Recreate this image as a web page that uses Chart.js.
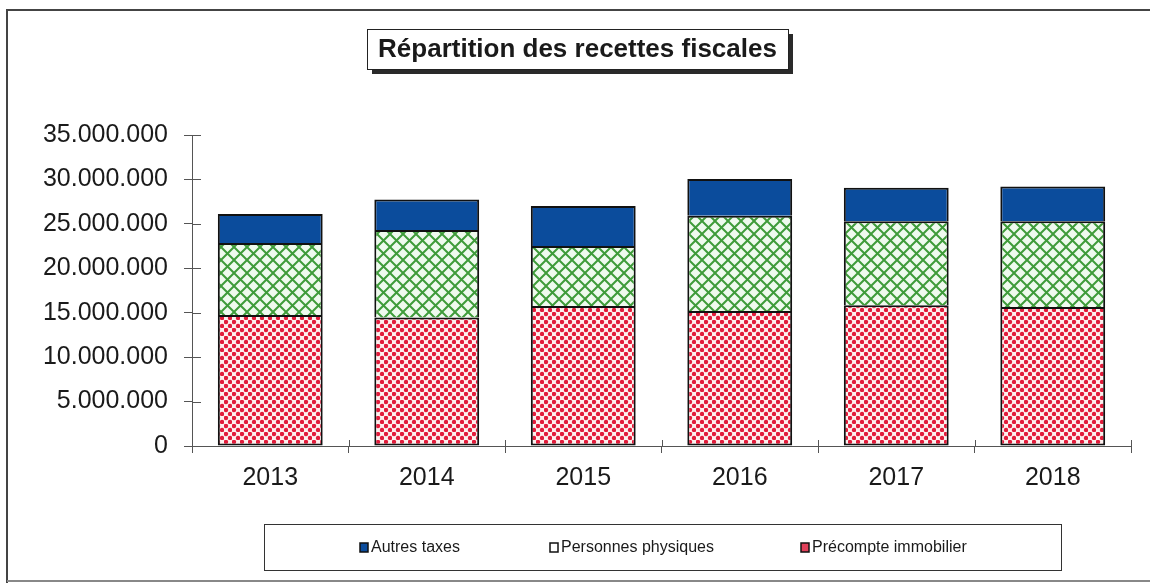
<!DOCTYPE html>
<html>
<head>
<meta charset="utf-8">
<title>Répartition des recettes fiscales</title>
<script src="https://cdn.jsdelivr.net/npm/chart.js@4.4.0/dist/chart.umd.min.js"></script>
<style>
    html, body { margin: 0; padding: 0; background: #ffffff; }
    #chart { display: block; }
</style>
</head>
<body>
<canvas id="chart" width="1150" height="583"></canvas>
<script>
// Data
const years = ['2013', '2014', '2015', '2016', '2017', '2018'];
const precompteImmobilier = [14750000, 14450000, 15750000, 15200000, 15850000, 15650000];
const personnesPhysiques = [8100000, 9850000, 6750000, 10700000, 9450000, 9650000];
const autresTaxes = [3250000, 3450000, 4500000, 4150000, 3750000, 3900000];
const seriesNames = ['Autres taxes', 'Personnes physiques', 'Précompte immobilier'];
const chartTitle = 'Répartition des recettes fiscales';
const yMax = 35000000;
const yStep = 5000000;

const FONT = '"Liberation Sans", Arial, sans-serif';

// Format numbers like 35.000.000
function formatThousands(v) {
    return String(v).replace(/\B(?=(\d{3})+(?!\d))/g, '.');
}

// Red dotted fill
function makeDotPattern(ctx) {
    const s = 8;
    const c = document.createElement('canvas');
    c.width = s;
    c.height = s;
    const p = c.getContext('2d');
    p.fillStyle = '#fdf1ef';
    p.fillRect(0, 0, s, s);
    p.fillStyle = '#e21c3b';
    [[2, 2], [6, 6]].forEach(([x, y]) => {
        p.beginPath();
        p.arc(x, y, 2.2, 0, Math.PI * 2);
        p.fill();
    });
    return ctx.createPattern(c, 'repeat');
}

// Green diagonal cross-hatch fill
function makeHatchPattern(ctx) {
    const s = 13;
    const c = document.createElement('canvas');
    c.width = s;
    c.height = s;
    const p = c.getContext('2d');
    p.fillStyle = '#effaee';
    p.fillRect(0, 0, s, s);
    p.strokeStyle = '#3f9b3a';
    p.lineWidth = 2;
    p.beginPath();
    p.moveTo(-1, -1); p.lineTo(s + 1, s + 1);
    p.moveTo(s + 1, -1); p.lineTo(-1, s + 1);
    p.stroke();
    return ctx.createPattern(c, 'repeat');
}

// Frame, title box, legend box and ticks that cross the axes
const decorPlugin = {
    id: 'decor',
    afterDraw(chart) {
        const ctx = chart.ctx;
        const area = chart.chartArea;
        ctx.save();

        // outer frame
        ctx.strokeStyle = '#444';
        ctx.lineWidth = 2;
        ctx.beginPath();
        ctx.moveTo(7, 583);
        ctx.lineTo(7, 10);
        ctx.lineTo(1150, 10);
        ctx.stroke();
        ctx.strokeStyle = '#888';
        ctx.beginPath();
        ctx.moveTo(7, 581);
        ctx.lineTo(1150, 581);
        ctx.stroke();

        // title box with shadow
        const bx = 367, by = 29, bw = 421, bh = 40;
        ctx.fillStyle = '#2a2a2a';
        ctx.fillRect(bx + 5, by + 5, bw, bh);
        ctx.fillStyle = '#ffffff';
        ctx.fillRect(bx, by, bw, bh);
        ctx.strokeStyle = '#222';
        ctx.lineWidth = 1;
        ctx.strokeRect(bx + 0.5, by + 0.5, bw, bh);
        ctx.fillStyle = '#1a1a1a';
        ctx.font = 'bold 26px ' + FONT;
        ctx.textAlign = 'center';
        ctx.textBaseline = 'middle';
        ctx.fillText(chartTitle, bx + bw / 2, by + bh / 2 + 1);

        // legend box
        ctx.strokeStyle = '#333';
        ctx.strokeRect(264.5, 524.5, 797, 46);
        const legendItems = [
            { label: seriesNames[0], x: 360, fill: '#0b4c9c' },
            { label: seriesNames[1], x: 550, fill: '#ffffff' },
            { label: seriesNames[2], x: 801, fill: '#e0405a' }
        ];
        ctx.font = '16px ' + FONT;
        ctx.textAlign = 'left';
        legendItems.forEach(item => {
            ctx.fillStyle = item.fill;
            ctx.fillRect(item.x, 543, 8, 9);
            ctx.strokeStyle = '#111';
            ctx.lineWidth = 1.5;
            ctx.strokeRect(item.x, 543, 8, 9);
            ctx.fillStyle = '#1a1a1a';
            ctx.fillText(item.label, item.x + 11, 548);
        });

        // inward parts of the tick marks
        const yScale = chart.scales.y;
        ctx.strokeStyle = '#555';
        ctx.lineWidth = 1;
        ctx.beginPath();
        yScale.ticks.forEach(t => {
            const py = Math.round(yScale.getPixelForValue(t.value)) + 0.5;
            ctx.moveTo(area.left, py);
            ctx.lineTo(area.left + 9, py);
        });
        const step = (area.right - area.left) / years.length;
        for (let i = 0; i <= years.length; i++) {
            const px = Math.round(area.left + i * step) + 0.5;
            ctx.moveTo(px, area.bottom - 6);
            ctx.lineTo(px, area.bottom);
        }
        ctx.stroke();
        ctx.restore();
    }
};

document.addEventListener('DOMContentLoaded', function() {
    const ctx = document.getElementById('chart').getContext('2d');
    const dotFill = makeDotPattern(ctx);
    const hatchFill = makeHatchPattern(ctx);

    new Chart(ctx, {
        type: 'bar',
        data: {
            labels: years,
            datasets: [
                {
                    label: seriesNames[2],
                    data: precompteImmobilier,
                    backgroundColor: dotFill,
                    borderColor: '#111',
                    borderWidth: 2,
                    borderSkipped: false
                },
                {
                    label: seriesNames[1],
                    data: personnesPhysiques,
                    backgroundColor: hatchFill,
                    borderColor: '#111',
                    borderWidth: 2,
                    borderSkipped: 'bottom'
                },
                {
                    label: seriesNames[0],
                    data: autresTaxes,
                    backgroundColor: '#0b4c9c',
                    borderColor: '#111',
                    borderWidth: 2,
                    borderSkipped: 'bottom'
                }
            ]
        },
        options: {
            responsive: false,
            maintainAspectRatio: false,
            animation: false,
            datasets: {
                bar: {
                    barPercentage: 0.67,
                    categoryPercentage: 1.0
                }
            },
            layout: {
                padding: { top: 135, right: 19, bottom: 0, left: 0 }
            },
            plugins: {
                legend: { display: false },
                title: { display: false },
                tooltip: { enabled: false }
            },
            scales: {
                x: {
                    stacked: true,
                    afterFit: function(scale) { scale.height = 137; },
                    grid: {
                        offset: true,
                        drawOnChartArea: false,
                        drawTicks: true,
                        tickLength: 7,
                        color: '#555'
                    },
                    border: { color: '#555', width: 1 },
                    ticks: {
                        color: '#1a1a1a',
                        font: { family: FONT, size: 25 },
                        padding: 10
                    }
                },
                y: {
                    stacked: true,
                    min: 0,
                    max: yMax,
                    afterFit: function(scale) { scale.width = 192; },
                    grid: {
                        drawOnChartArea: false,
                        drawTicks: true,
                        tickLength: 8,
                        color: '#555'
                    },
                    border: { color: '#555', width: 1 },
                    ticks: {
                        stepSize: yStep,
                        color: '#1a1a1a',
                        font: { family: FONT, size: 25 },
                        padding: 16,
                        callback: function(value) { return formatThousands(value); }
                    }
                }
            }
        },
        plugins: [decorPlugin]
    });
});
</script>
</body>
</html>
